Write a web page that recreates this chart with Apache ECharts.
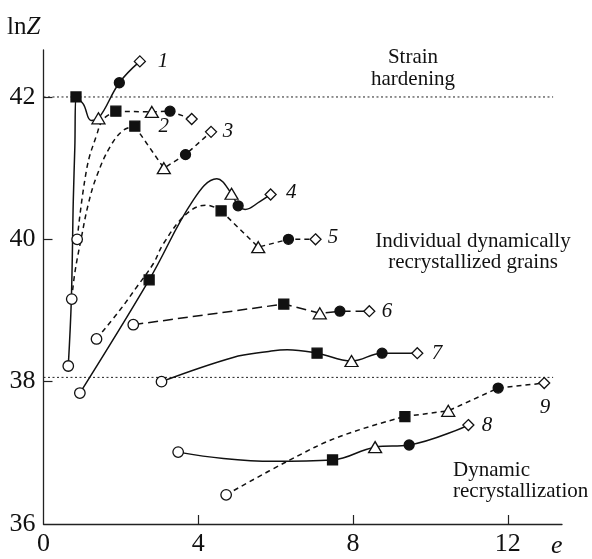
<!DOCTYPE html>
<html><head><meta charset="utf-8">
<script src="https://cdn.jsdelivr.net/npm/echarts@6/dist/echarts.min.js"></script>
<style>html,body{margin:0;padding:0;background:#fff}#c{width:592px;height:559px}</style>
</head><body><div id="c"></div>
<script>
// axis ticks
const xTicks = [0, 4, 8, 12];
const yTicks = [36, 38, 40, 42];
// reference (dotted) levels
const refLevels = [42, 38.06];
const refEnd = 13.17;

// points: [e, lnZ, marker]; marker: o open circle, s square, t triangle, c dot, d diamond, '' curve guide
const curve1 = [[0.64,38.22,'o'],[0.72,39.16,''],[0.77,40.55,''],[0.81,41.3,''],[0.84,42.0,'s'],[1.03,41.9,''],[1.23,41.67,''],[1.42,41.70,'t'],[1.96,42.20,'c'],[2.49,42.50,'d']];
const curve2 = [[0.87,40.0,'o'],[1.12,41.0,''],[1.37,41.46,''],[1.55,41.69,''],[1.87,41.80,'s'],[2.80,41.79,'t'],[3.27,41.80,'c'],[3.83,41.69,'d']];
const curve3 = [[0.73,39.16,'o'],[0.81,39.53,''],[0.97,40.0,''],[1.16,40.5,''],[1.37,40.88,''],[1.72,41.30,''],[2.06,41.53,''],[2.36,41.59,'s'],[3.11,41.0,'t'],[3.67,41.19,'c'],[4.33,41.51,'d']];
const curve4 = [[0.94,37.84,'o'],[2.73,39.43,'s'],[3.87,40.55,''],[4.48,40.85,''],[4.86,40.64,'t'],[5.03,40.47,'c'],[5.21,40.42,''],[5.59,40.53,''],[5.87,40.63,'d']];
const curve5 = [[1.37,38.60,'o'],[1.98,39.01,''],[2.41,39.33,''],[2.84,39.66,''],[3.10,39.94,''],[3.70,40.36,''],[4.22,40.48,''],[4.59,40.40,'s'],[5.55,39.89,'t'],[6.33,40.0,'c'],[7.03,40.0,'d']];
const curve6 = [[2.32,38.80,'o'],[6.21,39.09,'s'],[7.14,38.96,'t'],[7.66,38.99,'c'],[8.42,38.99,'d']];
const curve7 = [[3.05,38.0,'o'],[4.90,38.34,''],[5.77,38.42,''],[6.3,38.45,''],[7.07,38.40,'s'],[7.96,38.29,'t'],[8.75,38.40,'c'],[9.66,38.40,'d']];
const curve8 = [[3.48,37.01,'o'],[4.65,36.92,''],[5.94,36.88,''],[7.47,36.90,'s'],[8.57,37.08,'t'],[9.45,37.11,'c'],[10.98,37.39,'d']];
const curve9 = [[4.72,36.41,'o'],[6.37,36.90,''],[7.66,37.23,''],[9.34,37.51,'s'],[10.46,37.59,'t'],[11.75,37.91,'c'],[12.94,37.98,'d']];

// curve number labels: [e, lnZ, text]
const curveLabels = [[3.09,42.50,'1'],[3.11,41.58,'2'],[4.77,41.51,'3'],[6.40,40.66,'4'],[7.48,40.02,'5'],[8.88,38.99,'6'],[10.17,38.40,'7'],[11.46,37.38,'8'],[12.96,37.64,'9']];

// styling per curve: dash pattern and index where smooth part ends (straight after)
const curveDefs = [
  {pts: curve1, dash: 'solid', smoothEnd: 9},
  {pts: curve2, dash: [5,4], smoothEnd: 4},
  {pts: curve3, dash: [5,4], smoothEnd: 7},
  {pts: curve4, dash: 'solid', smoothEnd: 8},
  {pts: curve5, dash: [5,4], smoothEnd: 7},
  {pts: curve6, dash: [10,5], smoothEnd: 0},
  {pts: curve7, dash: 'solid', smoothEnd: 7},
  {pts: curve8, dash: 'solid', smoothEnd: 6},
  {pts: curve9, dash: [5,4], smoothEnd: 3}
];

const INK = '#111';
const FONT = '"Liberation Serif", "Times New Roman", serif';
const markerDefs = {
  o: {symbol: 'circle', fill: '#fff', size: 10.5},
  s: {symbol: 'rect', fill: INK, size: 10},
  t: {symbol: 'triangle', fill: '#fff', size: [13, 11]},
  c: {symbol: 'circle', fill: INK, size: 10},
  d: {symbol: 'diamond', fill: '#fff', size: [11, 11]}
};

const series = [];
refLevels.forEach(v => {
  series.push({type: 'line', data: [[0, v], [refEnd, v]], symbol: 'none', silent: true,
    lineStyle: {color: '#222', width: 1, type: [2, 2.5]}, z: 1});
});
curveDefs.forEach(cd => {
  const xy = cd.pts.map(p => [p[0], p[1]]);
  if (cd.smoothEnd > 0) {
    series.push({type: 'line', data: xy.slice(0, cd.smoothEnd + 1), smooth: 0.4, symbol: 'none',
      lineStyle: {color: INK, width: 1.5, type: cd.dash}, z: 2});
  }
  if (cd.smoothEnd < xy.length - 1) {
    series.push({type: 'line', data: xy.slice(cd.smoothEnd), smooth: false, symbol: 'none',
      lineStyle: {color: INK, width: 1.5, type: cd.dash}, z: 2});
  }
});
Object.keys(markerDefs).forEach(k => {
  const m = markerDefs[k];
  const data = [];
  curveDefs.forEach(cd => cd.pts.forEach(p => { if (p[2] === k) data.push([p[0], p[1]]); }));
  series.push({type: 'scatter', data: data, symbol: m.symbol, symbolSize: m.size,
    itemStyle: {color: m.fill, borderColor: INK, borderWidth: 1.3, opacity: 1}, z: 5});
});
series.push({type: 'scatter', data: curveLabels.map(l => ({value: [l[0], l[1]], name: l[2]})),
  symbol: 'circle', symbolSize: 2, silent: true, z: 6,
  itemStyle: {color: 'rgba(255,255,255,0)', borderWidth: 0},
  label: {show: true, position: 'inside', formatter: '{b}', opacity: 1,
    textBorderWidth: 0, textShadowBlur: 0,
    fontFamily: FONT, fontStyle: 'italic', fontSize: 21, color: INK}});

const chart = echarts.init(document.getElementById('c'), null, {renderer: 'canvas'});
chart.setOption({
  animation: false,
  backgroundColor: '#fff',
  grid: {left: 43.5, top: 50, width: 518.5, height: 474, containLabel: false, outerBoundsMode: 'none'},
  xAxis: {
    type: 'value', min: 0, max: 13.4, interval: 4,
    axisLine: {lineStyle: {color: '#222', width: 1.3}},
    axisTick: {inside: true, length: 9, lineStyle: {color: '#222', width: 1.2}, customValues: xTicks.slice(1)},
    axisLabel: {customValues: xTicks, fontFamily: FONT, fontSize: 26, color: INK, margin: 7},
    splitLine: {show: false}
  },
  yAxis: {
    type: 'value', min: 36, max: 42.66, interval: 2,
    axisLine: {show: true, lineStyle: {color: '#222', width: 1.3}},
    axisTick: {show: true, inside: true, length: 9, lineStyle: {color: '#222', width: 1.2}, customValues: yTicks.slice(1)},
    axisLabel: {customValues: yTicks, fontFamily: FONT, fontSize: 26, color: INK, margin: 8},
    splitLine: {show: false}
  },
  graphic: [
    {type: 'text', left: 7, top: 15, style: {
      text: '{a|ln}{b|Z}', font: '25px ' + FONT,
      rich: {a: {fontFamily: FONT, fontSize: 25, fill: INK}, b: {fontFamily: FONT, fontSize: 25, fontStyle: 'italic', fill: INK}}}},
    {type: 'text', left: 551, top: 533, style: {text: 'e', font: 'italic 26px ' + FONT, fill: INK}},
    {type: 'text', x: 413, y: 57, style: {text: 'Strain', font: '21px ' + FONT, fill: INK, align: 'center', verticalAlign: 'middle'}},
    {type: 'text', x: 413, y: 79, style: {text: 'hardening', font: '21px ' + FONT, fill: INK, align: 'center', verticalAlign: 'middle'}},
    {type: 'text', x: 473, y: 241, style: {text: 'Individual dynamically', font: '21px ' + FONT, fill: INK, align: 'center', verticalAlign: 'middle'}},
    {type: 'text', x: 473, y: 262, style: {text: 'recrystallized grains', font: '21px ' + FONT, fill: INK, align: 'center', verticalAlign: 'middle'}},
    {type: 'text', x: 453, y: 470, style: {text: 'Dynamic', font: '21px ' + FONT, fill: INK, align: 'left', verticalAlign: 'middle'}},
    {type: 'text', x: 453, y: 491, style: {text: 'recrystallization', font: '21px ' + FONT, fill: INK, align: 'left', verticalAlign: 'middle'}}
  ],
  series: series
});
</script></body></html>
